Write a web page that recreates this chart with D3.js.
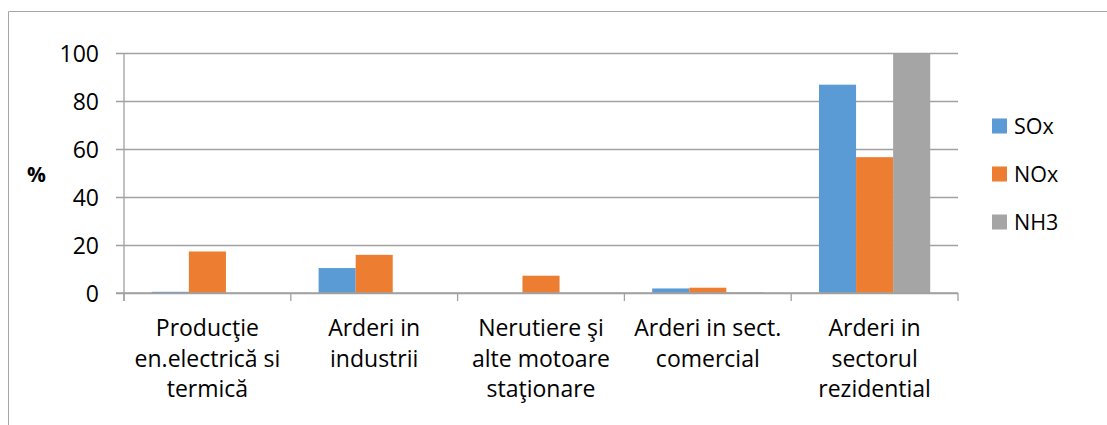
<!DOCTYPE html>
<html>
<head>
<meta charset="utf-8">
<script src="https://cdn.jsdelivr.net/npm/d3@7"></script>
<style>
  html, body { margin: 0; padding: 0; background: #fff; }
  svg { display: block; }
  text { font-family: "Open Sans", sans-serif; fill: #000; }
</style>
</head>
<body>
<svg id="chart" width="1107" height="425"></svg>
<script>
const categories = [
  ["Producţie", "en.electrică si", "termică"],
  ["Arderi in", "industrii"],
  ["Nerutiere şi", "alte motoare", "staţionare"],
  ["Arderi in sect.", "comercial"],
  ["Arderi in", "sectorul", "rezidential"]
];
const seriesNames = ["SOx", "NOx", "NH3"];
const SOx = [0.5, 10.4, 0, 1.9, 86.8];
const NOx = [17.3, 15.9, 7.2, 2.2, 56.6];
const NH3 = [0, 0, 0, 0.3, 99.6];
const yTicks = [0, 20, 40, 60, 80, 100];
const colors = ["#5b9bd5", "#ed7d31", "#a5a5a5"];

(function () {
const seriesValues = [SOx, NOx, NH3];
const svg = d3.select("#chart");

// outer frame
svg.append("path")
  .attr("d", "M8.5,425 V11.5 H1107")
  .attr("fill", "none").attr("stroke", "#a6a6a6").attr("stroke-width", 1);

const pl = 124, pr = 958, pt = 53, pb = 293;
const catIdx = categories.map((c, i) => i);
const x0 = d3.scaleBand().domain(catIdx).range([pl, pr]).paddingInner(0).paddingOuter(0);
const x1 = d3.scaleBand().domain(seriesNames).range([0, x0.bandwidth()]).paddingInner(0).paddingOuter(0.75);
const y = d3.scaleLinear().domain([0, 100]).range([pb, pt]);

const gridColor = "#a0a0a0";

// gridlines + y labels
const yAxis = d3.axisLeft(y).tickValues(yTicks).tickSize(-(pr - pl)).tickPadding(0).tickFormat(d3.format("d"));
const gy = svg.append("g").attr("transform", `translate(${pl},0)`).call(yAxis);
gy.select(".domain").remove();
gy.selectAll(".tick line").attr("stroke", gridColor).attr("stroke-width", 1.3).attr("x1", -8);
gy.selectAll(".tick text").attr("x", -25).attr("dy", "0.35em")
  .style("font-size", "23px").style("font-family", "Open Sans, sans-serif").attr("fill", "#000");

// y axis line
svg.append("line").attr("x1", pl).attr("x2", pl).attr("y1", pt).attr("y2", pb + 8)
  .attr("stroke", gridColor).attr("stroke-width", 1.3);

// x category boundary ticks
const bounds = catIdx.map(i => x0(i)).concat([pr]);
svg.append("g").selectAll("line").data(bounds).join("line")
  .attr("x1", d => d).attr("x2", d => d).attr("y1", pb).attr("y2", pb + 8)
  .attr("stroke", gridColor).attr("stroke-width", 1.3);

// bars
const groups = svg.append("g").selectAll("g").data(catIdx).join("g")
  .attr("transform", i => `translate(${x0(i)},0)`);
groups.selectAll("rect")
  .data(i => seriesNames.map((s, k) => ({ s, k, v: seriesValues[k][i] })))
  .join("rect")
  .attr("x", d => x1(d.s))
  .attr("width", x1.bandwidth())
  .attr("y", d => y(d.v))
  .attr("height", d => y(0) - y(d.v))
  .attr("fill", d => colors[d.k]);

// x baseline on top
svg.append("line").attr("x1", pl - 8).attr("x2", pr).attr("y1", pb).attr("y2", pb)
  .attr("stroke", gridColor).attr("stroke-width", 1.3);

// x labels
const xl = svg.append("g").selectAll("text").data(catIdx).join("text")
  .attr("text-anchor", "middle")
  .attr("x", i => x0(i) + x0.bandwidth() / 2)
  .attr("y", 336)
  .style("font-size", "23px");
xl.selectAll("tspan").data(i => categories[i]).join("tspan")
  .attr("x", function () { return d3.select(this.parentNode).attr("x"); })
  .attr("dy", (d, j) => j === 0 ? 0 : 30.5)
  .text(d => d);

// y title
svg.append("text").attr("x", 36.5).attr("y", 175).attr("dy", "0.35em")
  .attr("text-anchor", "middle").style("font-size", "21px").style("font-weight", "bold").text("%");

// legend
const legendY = [126, 174, 222];
const lg = svg.append("g").selectAll("g").data(seriesNames).join("g")
  .attr("transform", (d, k) => `translate(992,${legendY[k]})`);
lg.append("rect").attr("x", 0).attr("y", -7.5).attr("width", 15).attr("height", 15)
  .attr("fill", (d, k) => colors[k]);
lg.append("text").attr("x", 22).attr("y", 0).attr("dy", "0.35em")
  .style("font-size", "21.5px").text(d => d);
})();
</script>
</body>
</html>
